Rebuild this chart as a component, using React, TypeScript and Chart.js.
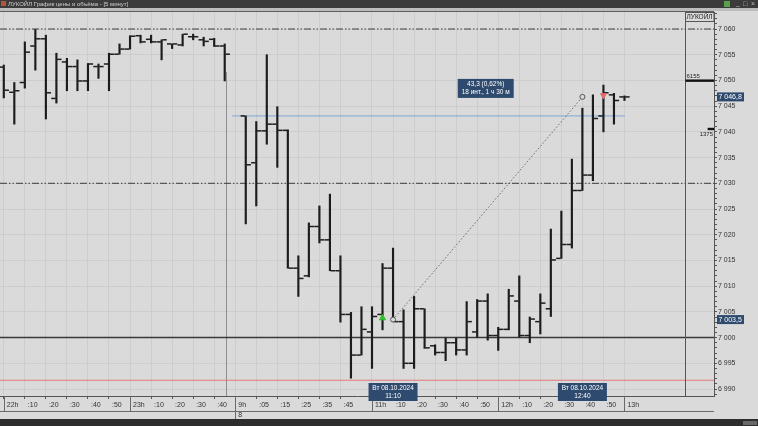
import React, { useEffect, useRef } from 'react';
import { Chart, registerables } from 'chart.js';

Chart.register(...registerables);

// ---------- data ----------
const titleText = 'ЛУКОЙЛ График цены и объёма - [5 минут]';
const panelTitle = 'ЛУКОЙЛ';

// bar slot index (5-minute bars); slot 22 is the session gap
const barIdx = [0,1,2,3,4,5,6,7,8,9,10,11,12,13,14,15,16,17,18,19,20,21,
  23,24,25,26,27,28,29,30,31,32,33,34,35,36,37,38,39,40,41,42,43,44,45,46,47,48,49,50,51,52,53,54,55,56,57,58,59];

const opens = [7052.6,7047.7,7049.6,7056.7,7058.1,7046.5,7053.6,7052.7,7049.9,7052.7,7053.2,7055.1,7056.1,7058.7,7058.0,7057.5,7057.1,7056.9,7058.5,7057.9,7058.0,7056.7,
  7043.1,7034.0,7040.2,7041.5,7040.3,7013.5,7012.0,7021.6,7019.0,7013.0,7004.5,6996.6,7001.1,7004.5,7013.5,7003.1,6995.0,7005.6,6998.4,6997.1,6999.0,6997.6,7001.1,7007.1,7000.4,7001.6,7007.1,7000.4,7003.1,7005.6,7015.4,7018.1,7028.6,7031.6,7043.1,7047.2,7046.8];
const highs = [7053.0,7049.6,7057.5,7059.9,7058.8,7055.3,7054.3,7054.0,7053.3,7053.2,7055.3,7057.1,7058.7,7058.8,7058.8,7057.9,7057.1,7059.0,7059.0,7058.4,7058.2,7057.1,
  7043.1,7042.0,7055.0,7044.9,7040.4,7015.9,7022.3,7025.6,7027.9,7015.9,7004.9,7006.0,7006.0,7014.4,7017.4,7005.4,7008.0,7005.6,6998.6,6999.9,6999.9,7007.0,7007.4,7008.5,7002.0,7009.4,7012.0,7004.0,7008.5,7021.1,7024.6,7034.7,7044.6,7047.2,7049.1,7047.5,7047.0];
const lows = [7046.6,7041.5,7048.5,7052.0,7042.5,7045.6,7048.0,7048.0,7048.0,7050.4,7048.0,7055.1,7056.1,7057.3,7057.3,7054.0,7056.2,7056.7,7057.9,7056.7,7056.6,7049.9,
  7022.1,7025.6,7037.6,7033.1,7013.5,7008.0,7011.8,7018.4,7013.0,7003.0,6992.1,6996.6,6994.0,7001.5,7003.1,6994.0,6994.0,6997.9,6996.6,6995.5,6996.6,6996.6,7000.1,6999.5,6997.5,7001.5,7000.1,6999.0,7000.7,7004.1,7015.4,7017.4,7028.6,7030.5,7040.0,7041.5,7046.1];
const closes = [7048.1,7048.0,7055.5,7058.1,7047.6,7054.1,7052.7,7049.9,7053.2,7052.7,7055.1,7056.1,7058.6,7057.5,7057.5,7057.9,7057.1,7059.0,7058.5,7057.6,7056.7,7055.1,
  7033.6,7040.2,7041.5,7040.3,7013.5,7011.5,7021.6,7019.0,7013.0,7004.5,6996.6,7001.6,7004.1,7013.5,7003.1,6995.0,7005.6,6998.0,6997.1,6999.0,6997.6,7003.1,7007.1,7000.4,7001.6,7008.1,7000.4,7003.6,7006.7,7015.1,7018.1,7028.6,7031.6,7042.6,7047.6,7046.1,7046.8];

const xTickIdx = [0,2,4,6,8,10,12,14,16,18,20,22,24,26,28,30,32,35,37,39,41,43,45,47,49,51,53,55,57,59];
const xTickLabels = ['22h',':10',':20',':30',':40',':50','23h',':10',':20',':30',':40','9h',':05',':15',':25',':35',':45','11h',':10',':20',':30',':40',':50','12h',':10',':20',':30',':40',':50','13h'];
const dateRowIdx = [22];
const dateRowLabels = ['8'];

const xMin = -0.361;
const xMax = 67.51;
const yMin = 6988.64;
const yMax = 7063.31;
const yLabelStep = 5;

const dashDotLevels = [7060, 7030];
const solidLevel = 7000;
const redLevel = 6991.7;
const blueLevel = 7043.1;
const blueSpan = [21.7, 59.05];
const sessionBreakIdx = 21.15;

const measureIdx = [37, 55];
const measurePrice = [7003.5, 7046.8];
const measureText = ['43,3 (0,62%)', '18 инт., 1 ч 30 м'];
const measureDate = ['Вт 08.10.2024', 'Вт 08.10.2024'];
const measureTime = ['11:10', '12:40'];

const priceTags = [7046.8, 7003.5];

const buyIdx = [36];
const buyPrice = [7003.8];
const sellIdx = [57];
const sellPrice = [7047.1];

const volPrices = [7050, 7040.6];
const volValues = [6155, 1375];

// ---------- helpers ----------
const FONT = '"Liberation Sans", Arial, sans-serif';
const NAVY = '#2e4a6e';
const BAR = '#1c1c1c';

function fmt(v: number, d = 0) {
  const s = v.toFixed(d);
  const [i, f] = s.split('.');
  const w = i.replace(/\B(?=(\d{3})+(?!\d))/g, ' ');
  return f ? w + ',' + f : w;
}

function hline(ctx: CanvasRenderingContext2D, x1: number, x2: number, yy: number, c: string) {
  ctx.strokeStyle = c;
  ctx.lineWidth = 1;
  ctx.beginPath();
  ctx.moveTo(x1, yy);
  ctx.lineTo(x2, yy);
  ctx.stroke();
}
function vline(ctx: CanvasRenderingContext2D, xx: number, y1: number, y2: number, c: string) {
  ctx.strokeStyle = c;
  ctx.lineWidth = 1;
  ctx.beginPath();
  ctx.moveTo(xx, y1);
  ctx.lineTo(xx, y2);
  ctx.stroke();
}

function zeroPad(s: any) {
  s.paddingLeft = 0;
  s.paddingRight = 0;
  s.paddingTop = 0;
  s.paddingBottom = 0;
}

const chromePlugin = {
  id: 'chrome',
  beforeDraw(chart: any) {
    const { ctx, width, height } = chart;
    ctx.save();
    ctx.fillStyle = '#dadada';
    ctx.fillRect(0, 0, width, height);
    ctx.fillStyle = '#3b3b3b';
    ctx.fillRect(0, 0, width, 8);
    ctx.fillStyle = '#bcbcbc';
    ctx.fillRect(0, 8, width, 3);
    ctx.fillStyle = '#b5523f';
    ctx.fillRect(1, 1, 5, 5);
    ctx.fillStyle = '#cfcfcf';
    ctx.font = `6px ${FONT}`;
    ctx.textBaseline = 'middle';
    ctx.textAlign = 'left';
    ctx.fillText(titleText, 8, 4);
    ctx.fillStyle = '#5aa04a';
    ctx.fillRect(724, 1, 6, 6);
    ctx.fillStyle = '#bbbbbb';
    ctx.font = `7px ${FONT}`;
    ctx.fillText('_', 736, 3);
    ctx.fillText('□', 743, 4);
    ctx.fillText('×', 751, 4);
    ctx.fillStyle = '#2d2d2d';
    ctx.fillRect(0, height - 7, width, 7);
    ctx.fillStyle = '#6a6a6a';
    ctx.fillRect(743, height - 5, 14, 4);
    ctx.restore();
  },
  beforeDatasetsDraw(chart: any) {
    const { ctx, chartArea: a, scales } = chart;
    ctx.save();
    const sx = Math.round(scales.x.getPixelForValue(sessionBreakIdx)) + 0.5;
    vline(ctx, sx, a.top + 60, a.bottom, '#8e8e8e');
    ctx.restore();
  },
  afterDraw(chart: any) {
    const { ctx, chartArea: a, scales } = chart;
    const x = scales.x;
    const y = scales.y;
    ctx.save();
    hline(ctx, 0, a.right, a.top - 0.5, '#5e5e5e');
    const px = Math.round(a.right - 29) + 0.5;
    vline(ctx, px, a.top, a.bottom, '#555555');
    const rowY = a.bottom + 15.5;
    hline(ctx, 0, a.right, rowY, '#6a6a6a');

    // time-axis labels
    ctx.font = `7px ${FONT}`;
    ctx.textAlign = 'left';
    ctx.textBaseline = 'middle';
    xTickIdx.forEach((v, i) => {
      const pxl = x.getPixelForValue(v);
      ctx.fillStyle = '#333';
      ctx.fillText(xTickLabels[i], pxl + 3, a.bottom + 9.5);
      const lab = xTickLabels[i];
      if (lab.endsWith('h')) {
        const sx = Math.round(pxl) + 0.5;
        const isDay = dateRowIdx.indexOf(v) >= 0;
        vline(ctx, sx, a.bottom, isDay ? a.bottom + 23 : rowY, '#6a6a6a');
      }
    });
    ctx.fillStyle = '#333';
    dateRowIdx.forEach((v, i) => {
      ctx.fillText(dateRowLabels[i], x.getPixelForValue(v) + 3, a.bottom + 19.5);
    });

    // volume panel
    ctx.strokeStyle = '#555';
    ctx.strokeRect(px, a.top + 0.5, a.right - px, 9);
    ctx.fillStyle = '#222';
    ctx.font = `6.5px ${FONT}`;
    ctx.fillText(panelTitle, px + 1, a.top + 5);
    const maxV = Math.max(...volValues);
    volPrices.forEach((p, i) => {
      const py = y.getPixelForValue(p);
      const len = (a.right - px) * volValues[i] / maxV;
      ctx.fillStyle = '#111';
      ctx.fillRect(a.right - len, py - 1, len, 2.4);
      ctx.fillStyle = '#222';
      ctx.font = `6px ${FONT}`;
      if (i === 0) {
        ctx.textAlign = 'left';
        ctx.fillText(String(volValues[i]), px + 1, py - 4.5);
      } else {
        ctx.textAlign = 'right';
        ctx.fillText(String(volValues[i]), a.right - 1, py + 5.5);
      }
    });

    // price tags on the value axis
    ctx.font = `7px ${FONT}`;
    ctx.textAlign = 'left';
    priceTags.forEach((v) => {
      const py = y.getPixelForValue(v);
      ctx.fillStyle = NAVY;
      ctx.fillRect(a.right + 3, py - 4.5, 27, 9);
      ctx.fillStyle = '#ffffff';
      ctx.fillText(fmt(v, 1), a.right + 4.5, py + 0.5);
    });

    // date boxes on the time axis
    ctx.textAlign = 'center';
    measureIdx.forEach((v, i) => {
      const cx = x.getPixelForValue(v);
      const top = a.bottom - 13;
      ctx.fillStyle = NAVY;
      ctx.fillRect(cx - 24.5, top, 49, 18);
      ctx.fillStyle = '#ffffff';
      ctx.font = `6.5px ${FONT}`;
      ctx.fillText(measureDate[i], cx, top + 4.8);
      ctx.fillText(measureTime[i], cx, top + 13);
    });

    // measurement info box
    const x1 = x.getPixelForValue(measureIdx[0]);
    const x2 = x.getPixelForValue(measureIdx[1]);
    const yTop = Math.min(y.getPixelForValue(measurePrice[0]), y.getPixelForValue(measurePrice[1]));
    const cx = (x1 + x2) / 2 - 2;
    const bTop = yTop - 18;
    ctx.fillStyle = NAVY;
    ctx.fillRect(cx - 28, bTop, 56, 19);
    ctx.fillStyle = '#ffffff';
    ctx.font = `6.5px ${FONT}`;
    ctx.fillText(measureText[0], cx, bTop + 5.5);
    ctx.fillText(measureText[1], cx, bTop + 13.5);
    ctx.restore();
  },
};

function levelLine(price: number, from: number, to: number, color: string, width: number, dash: number[]) {
  return {
    type: 'line',
    data: [{ x: from, y: price }, { x: to, y: price }],
    borderColor: color,
    borderWidth: width,
    borderDash: dash,
    pointRadius: 0,
    order: 10,
  };
}

export default function App() {
  const ref = useRef<HTMLCanvasElement>(null);

  useEffect(() => {
    const canvas = ref.current;
    if (!canvas) return;
    const datasets: any[] = [
      {
        type: 'bar',
        data: barIdx.map((v, i) => ({ x: v, y: [lows[i], highs[i]] })),
        backgroundColor: BAR,
        barThickness: 1.5,
        order: 3,
      },
      {
        type: 'line',
        data: barIdx.map((v, i) => ({ x: v - 0.28, y: opens[i] })),
        showLine: false,
        pointStyle: 'line',
        pointRadius: 2.2,
        pointBorderWidth: 1.5,
        pointBorderColor: BAR,
        order: 2,
      },
      {
        type: 'line',
        data: barIdx.map((v, i) => ({ x: v + 0.28, y: closes[i] })),
        showLine: false,
        pointStyle: 'line',
        pointRadius: 2.2,
        pointBorderWidth: 1.5,
        pointBorderColor: BAR,
        order: 2,
      },
      ...dashDotLevels.map((p) => levelLine(p, xMin, xMax, '#3d3d3d', 1, [7, 2, 1.5, 2, 1.5, 2])),
      levelLine(solidLevel, xMin, xMax, '#3a3a3a', 1.5, []),
      levelLine(redLevel, xMin, xMax, '#e07a7a', 1, []),
      levelLine(blueLevel, blueSpan[0], blueSpan[1], '#7da9d4', 1, []),
      {
        type: 'line',
        data: measureIdx.map((v, i) => ({ x: v, y: measurePrice[i] })),
        borderColor: '#6a6a6a',
        borderWidth: 1,
        borderDash: [1.5, 2],
        pointStyle: 'circle',
        pointRadius: 2.5,
        pointBackgroundColor: '#dadada',
        pointBorderColor: '#555',
        pointBorderWidth: 1,
        order: 1,
      },
      {
        type: 'line',
        data: buyIdx.map((v, i) => ({ x: v, y: buyPrice[i] })),
        showLine: false,
        pointStyle: 'triangle',
        pointRadius: 3.6,
        pointBackgroundColor: '#2fbf2f',
        pointBorderColor: '#2fbf2f',
        pointBorderWidth: 1,
        order: 0,
      },
      {
        type: 'line',
        data: sellIdx.map((v, i) => ({ x: v, y: sellPrice[i] })),
        showLine: false,
        pointStyle: 'triangle',
        pointRotation: 180,
        pointRadius: 3.4,
        pointBackgroundColor: '#e86a6a',
        pointBorderColor: '#e86a6a',
        pointBorderWidth: 1,
        order: 0,
      },
    ];

    const chart = new Chart(canvas, {
      type: 'bar',
      data: { datasets },
      plugins: [chromePlugin],
      options: {
        animation: false,
        responsive: false,
        devicePixelRatio: 1,
        events: [],
        layout: { autoPadding: false, padding: { top: 12, bottom: 7, left: 0, right: 0 } },
        plugins: { legend: { display: false }, tooltip: { enabled: false }, title: { display: false } },
        scales: {
          x: {
            type: 'linear',
            min: xMin,
            max: xMax,
            offset: false,
            afterBuildTicks: (s: any) => {
              s.ticks = xTickIdx.map((v) => ({ value: v }));
            },
            afterFit: (s: any) => {
              s.height = 23;
              zeroPad(s);
            },
            ticks: { display: false, autoSkip: false, maxRotation: 0, minRotation: 0 },
            grid: { color: '#cdcdcd', tickColor: '#555', tickLength: 3, offset: false, lineWidth: 1 },
            border: { display: true, color: '#555', width: 1 },
          },
          y: {
            type: 'linear',
            position: 'right',
            min: yMin,
            max: yMax,
            afterBuildTicks: (s: any) => {
              const t: any[] = [];
              for (let v = Math.ceil(yMin); v <= Math.floor(yMax); v++) t.push({ value: v });
              s.ticks = t;
            },
            afterFit: (s: any) => {
              s.width = 44;
              zeroPad(s);
            },
            ticks: {
              autoSkip: false,
              padding: 1,
              color: '#333',
              font: { family: FONT, size: 7 },
              callback: (v: any) => (Number(v) % yLabelStep === 0 ? fmt(Number(v)) : ''),
            },
            grid: {
              color: (c: any) => (c.tick && c.tick.value % yLabelStep === 0 ? '#cdcdcd' : 'rgba(0,0,0,0)'),
              tickColor: '#555',
              tickLength: 3,
              lineWidth: 1,
            },
            border: { display: true, color: '#555', width: 1 },
          },
        },
      } as any,
    } as any);
    return () => chart.destroy();
  }, []);

  return (
    <div style={{ position: 'fixed', left: 0, top: 0, width: 758, height: 426, background: '#dadada', overflow: 'hidden' }}>
      <canvas ref={ref} width={758} height={426} style={{ display: 'block', width: 758, height: 426 }} />
    </div>
  );
}
